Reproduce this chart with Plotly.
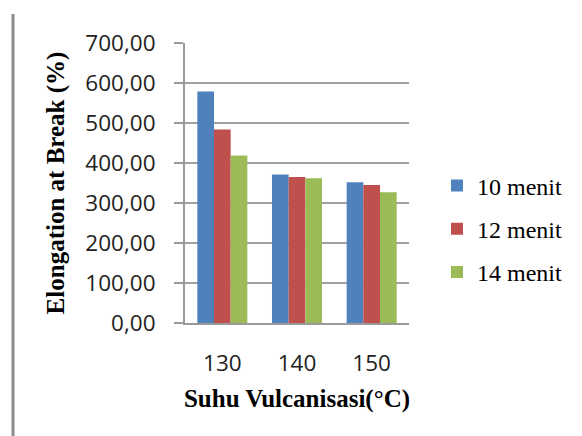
import plotly.graph_objects as go

categories = ["130", "140", "150"]
series_names = ["10 menit", "12 menit", "14 menit"]
values_10 = [579, 371, 352]
values_12 = [484, 365, 345]
values_14 = [419, 362, 327]
colors = ["#4F81BD", "#C0504D", "#9BBB59"]
y_ticks = [0, 100, 200, 300, 400, 500, 600, 700]

# page body has an 8px margin, so screen pixel = figure coord + 8
OFF = 8
W, H = 582, 436
L, T = 185 - OFF, 43 - OFF
pw = 409 - 185
ph = 323 - 43
R = W - L - pw
B = H - T - ph

fig = go.Figure()
for name, vals, col in zip(series_names, [values_10, values_12, values_14], colors):
    fig.add_trace(go.Bar(x=categories, y=vals, name=name, marker_color=col,
                         marker_line_width=0, legendgroup=name))

fig.update_layout(
    width=W, height=H,
    margin=dict(l=L, r=R, t=T, b=B, pad=0),
    paper_bgcolor="white", plot_bgcolor="white",
    separators=",.",
    barmode="group", bargap=0.33, bargroupgap=0,
    showlegend=True,
    legend=dict(x=(437 - 185) / pw, xanchor="left", y=(323 - 229) / ph, yanchor="middle",
                font=dict(family="Liberation Serif", size=24, color="black"),
                traceorder="grouped", tracegroupgap=9, bgcolor="rgba(0,0,0,0)",
                borderwidth=0),
    xaxis=dict(
        type="category", showgrid=False, ticks="", showline=True,
        linecolor="#9a9a9a", linewidth=2,
        tickfont=dict(family="Open Sans", size=22.5, color="#222"),
        ticklabelstandoff=19,
        title=dict(text="<b>Suhu Vulcanisasi(°C)</b>",
                   font=dict(family="Liberation Serif", size=25, color="black"),
                   standoff=12),
    ),
    yaxis=dict(
        range=[0, 700], tickvals=y_ticks, tickformat=".2f",
        showgrid=True, gridcolor="#a0a0a0", gridwidth=1.5,
        showline=True, linecolor="#9a9a9a", linewidth=2,
        ticks="outside", ticklen=9, tickcolor="#9a9a9a", tickwidth=1.5,
        tickfont=dict(family="Open Sans", size=22.5, color="#222"),
        ticklabelstandoff=14, zeroline=False,
        title=dict(text="<b>Elongation at Break (%)</b>",
                   font=dict(family="Liberation Serif", size=25, color="black"),
                   standoff=14),
    ),
)

fig.add_shape(type="line", xref="paper", yref="paper",
              x0=(13 - 185) / pw, x1=(13 - 185) / pw,
              y0=(323 - 14) / ph, y1=(323 - 436) / ph,
              line=dict(color="#8c8c8c", width=3))

fig.write_html("out.html")
